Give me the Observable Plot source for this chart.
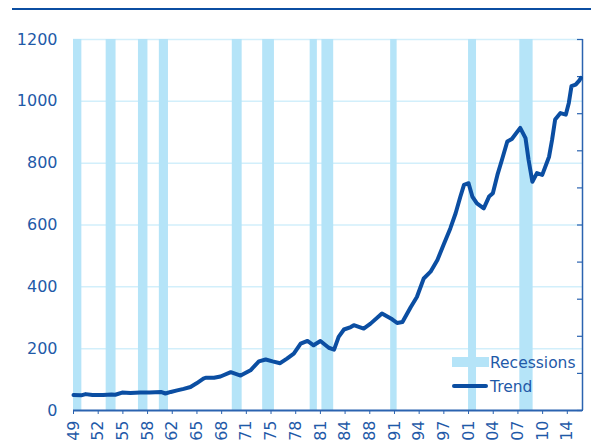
<!DOCTYPE html>
<html>
<head>
<meta charset="utf-8">
<script src="https://cdn.jsdelivr.net/npm/d3@7"></script>
<script src="https://cdn.jsdelivr.net/npm/@observablehq/plot@0.6"></script>
<style>
  body { margin: 0; background: #fff; }
  #wrap { position: relative; width: 591px; height: 447px; font-family: "DejaVu Sans", sans-serif; overflow: hidden; }
  #topline { position: absolute; left: 12px; top: 8px; width: 579px; height: 2px; background: #0b4ea2; }
  #chart { position: absolute; left: 0; top: 0; }
  #legend { position: absolute; left: 0; top: 0; pointer-events: none; }
</style>
</head>
<body>
<div id="wrap">
  <div id="chart"></div>
  <div id="topline"></div>
  <svg id="legend" width="591" height="447">
    <rect x="452" y="357" width="37" height="10" fill="#b5e4f8"></rect>
    <text x="490" y="368" font-family="DejaVu Sans" font-size="15.5" fill="#1f5aa8">Recessions</text>
    <line x1="454" y1="386" x2="486" y2="386" stroke="#0b4ea2" stroke-width="4" stroke-linecap="round"></line>
    <text x="490" y="392" font-family="DejaVu Sans" font-size="15.5" fill="#1f5aa8">Trend</text>
  </svg>
</div>
<script>
// Trend series (year, value)
const trendYears = [1949.0, 1950.0, 1950.6, 1951.5, 1952.9, 1954.0, 1954.5, 1955.4, 1956.5, 1957.8, 1959.0, 1960.5, 1961.1, 1961.8, 1962.65, 1963.5, 1964.4, 1965.2, 1966.1, 1966.4, 1967.5, 1968.35, 1969.7, 1971.0, 1972.3, 1973.4, 1974.3, 1975.2, 1976.2, 1977.1, 1978.0, 1978.9, 1979.8, 1980.6, 1981.5, 1982.6, 1983.3, 1983.9, 1984.6, 1985.5, 1985.9, 1987.2, 1988.1, 1989.6, 1990.95, 1991.6, 1992.3, 1993.4, 1994.2, 1995.1, 1996.0, 1996.9, 1997.7, 1998.6, 1999.3, 1999.9, 2000.4, 2001.0, 2001.5, 2002.1, 2003.0, 2003.7, 2004.2, 2004.8, 2005.4, 2006.1, 2006.7, 2007.8, 2008.5, 2008.9, 2009.4, 2010.0, 2010.7, 2011.6, 2012.0, 2012.4, 2013.1, 2013.8, 2014.2, 2014.55, 2015.1, 2015.6, 2015.8];
const trendValues = [50, 49, 53, 50, 50, 52, 51, 58, 57, 58, 58, 60, 55, 60, 65, 70, 76, 88, 103, 106, 106, 110, 124, 113, 130, 159, 165, 159, 153, 168, 184, 216, 225, 211, 225, 203, 197, 238, 262, 270, 276, 265, 281, 314, 295, 283, 286, 335, 367, 427, 449, 487, 535, 589, 638, 690, 730, 735, 692, 670, 654, 692, 703, 762, 811, 870, 878, 914, 881, 811, 740, 768, 762, 821, 876, 941, 962, 957, 995, 1049, 1054, 1068, 1076];

// Recession periods (start, end) in years
const recessionStarts = [1949.0, 1953.3, 1957.55, 1960.3, 1969.9, 1973.9, 1980.15, 1981.7, 1990.75, 2001.0, 2007.75];
const recessionEnds   = [1950.1, 1954.6, 1958.8, 1961.5, 1971.2, 1975.45, 1981.1, 1983.25, 1991.6, 2002.05, 2009.5];

// Axis tick labels
const xTickLabels = ["49","52","55","58","62","65","68","71","75","78","81","84","88","91","94","97","01","04","07","10","14"];
const xStart = 1949, xEnd = 2016, xTickStep = 3.25;
const yTicks = [0, 200, 400, 600, 800, 1000, 1200];
const yMax = 1200;

const textColor = "#1f5aa8";
const lineColor = "#0b4ea2";
const axisColor = "#2b63b0";
const barColor = "#b5e4f8";
const gridColor = "#d2effb";

const trend = trendYears.map((y, i) => ({year: y, value: trendValues[i]}));
const recessions = recessionStarts.map((s, i) => ({start: s, end: recessionEnds[i]}));
const xTicks = xTickLabels.map((_, i) => xStart + xTickStep * i);
const xLabelMap = new Map(xTicks.map((t, i) => [t, xTickLabels[i]]));
const rightTicks = d3.range(0, yMax + 1, yMax / 10);

const chart = Plot.plot({
  width: 591,
  height: 447,
  marginLeft: 73,
  marginRight: 9,
  marginTop: 39,
  marginBottom: 37,
  style: {fontFamily: "DejaVu Sans, sans-serif", fontSize: "16px", color: textColor, background: "transparent", overflow: "visible"},
  x: {domain: [xStart, xEnd], label: null},
  y: {domain: [0, yMax], label: null},
  marks: [
    Plot.gridY(yTicks.filter(d => d > 0), {stroke: gridColor, strokeOpacity: 1, strokeWidth: 1.5}),
    Plot.rect(recessions, {x1: "start", x2: "end", fill: barColor}),
    Plot.axisY(yTicks, {anchor: "left", tickSize: 0, tickPadding: 16, tickFormat: d => String(d), fill: textColor, label: null}),
    Plot.axisY(rightTicks, {anchor: "right", tickSize: 6, insetRight: 6, tickFormat: () => "", stroke: axisColor, strokeWidth: 1.2, label: null}),
    Plot.ruleX([xEnd], {stroke: axisColor, strokeWidth: 1.5}),
    Plot.axisX(xTicks, {anchor: "bottom", tickRotate: -90, tickSize: 4, tickPadding: 6, tickFormat: d => xLabelMap.get(d), stroke: axisColor, fill: textColor, label: null}),
    Plot.ruleY([0], {stroke: axisColor, strokeWidth: 2}),
    Plot.line(trend, {x: "year", y: "value", stroke: lineColor, strokeWidth: 4, strokeLinejoin: "round", strokeLinecap: "round"})
  ]
});
document.getElementById("chart").appendChild(chart);
</script>
</body>
</html>
